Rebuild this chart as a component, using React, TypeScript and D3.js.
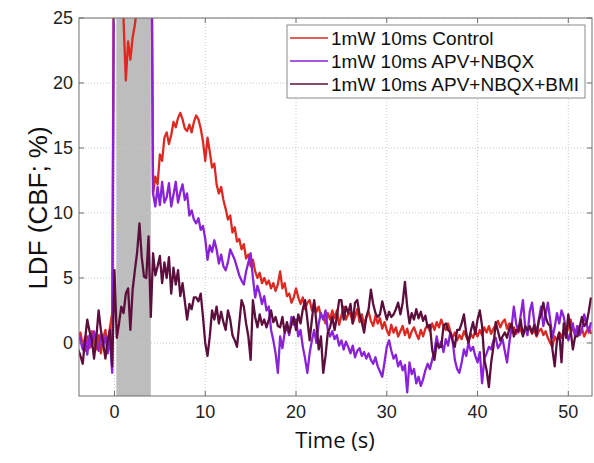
import React from "react";
import * as d3 from "d3";

const startTime = -4;
const sampleStep = 0.25;
const xTicks = [0, 10, 20, 30, 40, 50];
const yTicks = [0, 5, 10, 15, 20, 25];
const stimulus = [0.2, 4.0];
const seriesNames = ["1mW 10ms Control", "1mW 10ms APV+NBQX", "1mW 10ms APV+NBQX+BMI"];
const seriesColors = ["#dc2a22", "#8a22d8", "#5c0f3c"];

const control = [
  0.3, 0.8, -0.2, -0.6,
  0.5, -0.4, 0.9, 0.2,
  -0.5, 0.6, -0.8, 0.4,
  1.0, -0.3, 1.2, 2.3,
  40, 40, 40, 40,
  24.8, 20.2, 23.2, 21.8,
  23.5, 24.5, 26, 40,
  40, 40, 40, 40,
  40, 11.5, 12.8, 12.2,
  14.5, 14, 15.8, 16.2,
  15.3, 16, 17, 16.6,
  17.3, 17.7, 17.2, 16.5,
  16.3, 16.8, 16.2, 17,
  17.5, 17.2, 16.5, 15.5,
  14, 15.8, 14.7, 13.5,
  13.8, 12.2, 11.5, 12,
  11, 10.3, 9.5, 9.8,
  8.5, 8.9, 7.8, 8.0,
  7.2, 7.6, 6.5, 6.8,
  5.9, 6.4, 5.5, 5.0,
  5.4, 4.6, 5.0, 4.5,
  4.8, 4.2, 4.6, 4.0,
  4.5, 5.5, 4.2, 4.6,
  3.6, 3.8, 3.1, 3.5,
  4.2, 3.5, 3.0, 3.5,
  2.6, 3.1, 3.3, 2.5,
  3.1, 2.4, 2.8, 2.0,
  2.0, 1.5, 2.3, 1.8,
  2.5, 1.9, 2.5, 1.4,
  2.1, 2.8, 1.8, 2.2,
  2.3, 1.5, 2.0, 2.6,
  1.6, 2.2, 1.4, 2.0,
  2.4, 1.7, 1.3, 2.1,
  1.5, 1.9, 1.1, 1.6,
  1.0, 0.6, 1.4, 0.8,
  1.2, 0.5, 0.9, 1.3,
  0.6, 1.1, 0.4, 0.9,
  1.2, 0.7, 0.3, 1.0,
  0.5, 1.1, 1.4, 0.9,
  1.5, 1.0, 1.6, 1.2,
  1.8, 1.3, 1.0, 1.5,
  0.9, 0.4, 0.8, 0.2,
  0.6, 0.3, 0.9, 0.5,
  0.1, 0.7, 0.4, 0.9,
  0.5, 1.0, 0.6, 1.2,
  0.8, 1.3, 0.7, 1.1,
  1.4, 1.7, 1.2, 1.6,
  1.8, 1.1, 1.5, 0.9,
  1.2, 0.7, 1.3, 1.0,
  0.6, 1.1, 0.8, 1.2,
  0.7, 1.0, 0.5, 0.9,
  1.1, 0.6, 0.9, 0.4,
  0.0, -0.3, 0.5, 0.2,
  0.8, 0.4, 1.0, 0.6,
  1.2, 1.8, 1.0, 0.7,
  1.3, 0.8, 1.1, 0.5,
  0.9, 1.2, 0.7,
];

const apvNbqx = [
  0.8, 0.2, -0.5, 0.4,
  -0.9, 0.6, -0.3, 0.9,
  0.1, -0.6, 0.7, -0.2,
  0.5, -0.8, 0.3, -2.3,
  40, 40, 40, 40,
  40, 40, 40, 40,
  40, 40, 40, 40,
  40, 40, 40, 40,
  40, 11.5, 10.5, 12.0,
  10.6, 12.4, 10.8, 11.2,
  12.3, 10.5, 11.4, 12.4,
  10.8, 11.6, 12.2, 11.0,
  11.5, 9.8, 10.2, 9.5,
  9.2, 9.6, 8.7, 9.0,
  8.0, 6.4, 7.5, 7.0,
  7.9, 7.2, 6.1, 6.8,
  5.9, 5.6, 6.2, 7.2,
  6.8, 6.4, 5.8, 5.2,
  4.8, 4.5, 5.5, 6.2,
  6.9, 5.0, 3.5, 4.4,
  3.8, 3.0, 3.6, 2.5,
  2.8, 1.0, 0.2, -0.8,
  -2.3, 0.5, -0.4, 0.8,
  1.2, 0.6, 2.0, 1.4,
  1.8, 0.5, 1.0, -0.3,
  -1.2, -2.3, -0.8, 0.2,
  1.0, 0.0, 1.5, 2.3,
  1.8, 2.5, 1.0, 0.5,
  0.9, 0.3, 0.6, -0.2,
  0.2, -0.5, 0.1, -0.3,
  -0.8, -0.2, -1.1, -0.6,
  -0.4, -1.0, -0.7, -1.2,
  -0.8, -1.3, -1.6, -1.1,
  -1.8, -2.2, -2.6, -1.5,
  -0.3, 0.2, -0.6, -1.2,
  -0.9, -1.8, -1.4, -2.1,
  -1.7, -3.8, -1.5, -2.4,
  -2.0, -3.1, -2.6, -3.3,
  -2.8, -2.1, -1.6, -2.0,
  -1.3, -0.6, 0.5, -0.4,
  0.1, -0.7, 0.3, -0.2,
  0.8, 0.2, -1.3, -2.0,
  -2.3, -1.5, -0.5, -1.0,
  0.0, -0.6, -0.3, -1.0,
  -1.5, -0.7, -3.1, -1.2,
  -0.8, -0.3, -0.5, 0.2,
  0.4, -0.4, -0.1, 0.3,
  -0.6, -1.5, 0.0, 1.2,
  2.8, 1.5, 0.8, 2.1,
  3.3, 1.2, 0.6, 2.4,
  3.1, 1.6, 0.7, 1.8,
  2.8, 1.3, 2.2, 3.1,
  1.8, 0.4, 1.2, 2.3,
  1.5, 2.5, 2.0, 1.0,
  0.2, 0.8, 1.5, 0.5,
  1.3, 0.6, 1.0, 2.2,
  1.5, 0.8, 1.6,
];

const apvNbqxBmi = [
  -0.5, -1.0, -1.6, 0.2,
  1.8, 0.9, 0.3, -1.2,
  0.4, 2.5, 1.0, 0.0,
  -1.2, 0.2, 1.0, -1.8,
  5.6, 0.4, 1.5, 2.8,
  2.3, 3.8, 4.2, 1.0,
  4.1, 5.6, 7.0, 9.2,
  6.6, 5.1, 5.0, 8.2,
  2.0, 6.9, 5.2, 5.9,
  6.7, 4.6, 6.2, 5.0,
  6.6, 3.8, 5.8, 4.5,
  5.6, 3.6, 4.6, 3.2,
  1.8, 3.0, 2.6, 3.5,
  3.5, 3.2, 3.8, 2.0,
  0.0, -1.0, 0.5, 2.5,
  1.8, 2.8, 1.5, 2.4,
  1.6, 1.0, 2.5, 1.8,
  0.6, 0.2, -0.3, 1.5,
  3.3, 2.8, 1.5, 0.5,
  -1.3, 3.3, 2.0, 1.2,
  2.2, 1.4, 1.8, 1.2,
  1.8, 2.5, 1.6, 2.0,
  1.3, 1.2, 2.0, 0.8,
  1.6, 0.8, 1.4, 2.0,
  1.0, 2.2, 1.5, 2.6,
  3.3, 1.8, 0.2, 1.8,
  3.3, 1.5, -0.5, 0.5,
  -2.3, -1.0, 0.8, 1.2,
  2.0, 1.0, 2.0, 3.3,
  3.3, 1.8, 2.8, 2.3,
  3.0, 1.5, 3.1, 3.3,
  2.2, 1.6, 0.8, 2.0,
  2.6, 4.1, 3.0, 2.3,
  2.0, 2.2, 3.2, 2.5,
  1.8, 2.4, 2.0, 2.2,
  2.6, 3.1, 2.2, 3.1,
  4.7, 2.8, 1.5, 2.3,
  1.8, 2.6, 1.9, 2.4,
  1.7, 2.1, 1.2, 1.4,
  -0.5, -1.3, 0.0, -0.3,
  -0.3, 1.3, 1.5, 1.0,
  0.8, 0.2, -0.3, 1.0,
  1.0, 1.5, 2.2, 0.8,
  0.0, 0.9, 1.6, 0.7,
  1.8, 2.5, 1.3, -1.3,
  -2.1, -3.4, -1.5, -0.3,
  1.6, 0.9, 0.2, 0.5,
  0.8, 0.4, 1.1, 1.5,
  0.5, 1.0, 0.9, 1.8,
  0.5, 1.3, 1.0, 1.3,
  0.8, 1.4, 0.6, 1.7,
  2.3, 3.1, 2.0, 1.5,
  1.3, -0.5, -1.8, 0.2,
  0.8, -1.5, 1.5, 0.4,
  2.2, 1.0, -0.5, 0.5,
  0.5, 1.2, 2.0, 1.3,
  1.5, 2.4, 3.5,
];

const seriesData = [control, apvNbqx, apvNbqxBmi];

export default function App() {
  const W = 594;
  const H = 463;
  const left = 79, right = 592, top = 18, bottom = 396;
  const x = d3.scaleLinear().domain([-3.91, 52.61]).range([left, right]);
  const y = d3.scaleLinear().domain([-4.08, 25]).range([bottom, top]);
  const line = d3
    .line<number>()
    .x((_, i) => x(startTime + i * sampleStep))
    .y((d) => y(d));
  const frame = "#6e6e6e";
  const tickLen = 5;
  const legX = 287, legY = 25, legW = 298, legH = 73;

  return (
    <svg
      width={W}
      height={H}
      style={{ position: "absolute", left: 0, top: 0, background: "#fff" }}
      fontFamily="'Liberation Sans', Arial, sans-serif"
    >
      <defs>
        <clipPath id="plotClip">
          <rect x={left} y={top} width={right - left} height={bottom - top} />
        </clipPath>
      </defs>
      <rect x={0} y={0} width={W} height={H} fill="#fff" />
      <rect
        x={x(stimulus[0])}
        y={top}
        width={x(stimulus[1]) - x(stimulus[0])}
        height={bottom - top}
        fill="#bdbdbd"
      />
      {xTicks.map((t) => (
        <line key={"gx" + t} x1={x(t)} x2={x(t)} y1={top} y2={bottom} stroke="#c8c8c8" strokeWidth={1} strokeDasharray="1,2" />
      ))}
      {yTicks.map((t) => (
        <line key={"gy" + t} x1={left} x2={right} y1={y(t)} y2={y(t)} stroke="#c8c8c8" strokeWidth={1} strokeDasharray="1,2" />
      ))}
      <g clipPath="url(#plotClip)">
        {seriesData.map((s, k) => (
          <path key={k} d={line(s) || ""} fill="none" stroke={seriesColors[k]} strokeWidth={2.3} strokeLinejoin="round" />
        ))}
      </g>
      <rect x={left} y={top} width={right - left} height={bottom - top} fill="none" stroke={frame} strokeWidth={1} />
      {xTicks.map((t) => (
        <g key={"tx" + t}>
          <line x1={x(t)} x2={x(t)} y1={bottom} y2={bottom - tickLen} stroke={frame} />
          <line x1={x(t)} x2={x(t)} y1={top} y2={top + tickLen} stroke={frame} />
          <text x={x(t)} y={418} textAnchor="middle" fontSize={18} fill="#222">{t}</text>
        </g>
      ))}
      {yTicks.map((t) => (
        <g key={"ty" + t}>
          <line x1={left} x2={left + tickLen} y1={y(t)} y2={y(t)} stroke={frame} />
          <line x1={right} x2={right - tickLen} y1={y(t)} y2={y(t)} stroke={frame} />
          <text x={73} y={y(t)} dy="0.35em" textAnchor="end" fontSize={18} fill="#222">{t}</text>
        </g>
      ))}
      <text
        transform={`translate(47, ${(top + bottom) / 2 + 1}) rotate(-90)`}
        textAnchor="middle"
        fontSize={26}
        fill="#111"
      >
        LDF (CBF; %)
      </text>
      <text x={335} y={448} textAnchor="middle" fontSize={22} fill="#111" fontFamily="'Open Sans', 'Noto Sans', sans-serif">
        Time (s)
      </text>
      <rect x={legX} y={legY} width={legW} height={legH} fill="#fff" stroke="#8a8a8a" strokeWidth={1} />
      {seriesNames.map((n, k) => (
        <g key={n}>
          <line x1={290} x2={328} y1={38 + k * 23} y2={38 + k * 23} stroke={seriesColors[k]} strokeWidth={1.5} />
          <text x={331} y={38 + k * 23} dy="0.35em" fontSize={19} fill="#111">{n}</text>
        </g>
      ))}
    </svg>
  );
}
